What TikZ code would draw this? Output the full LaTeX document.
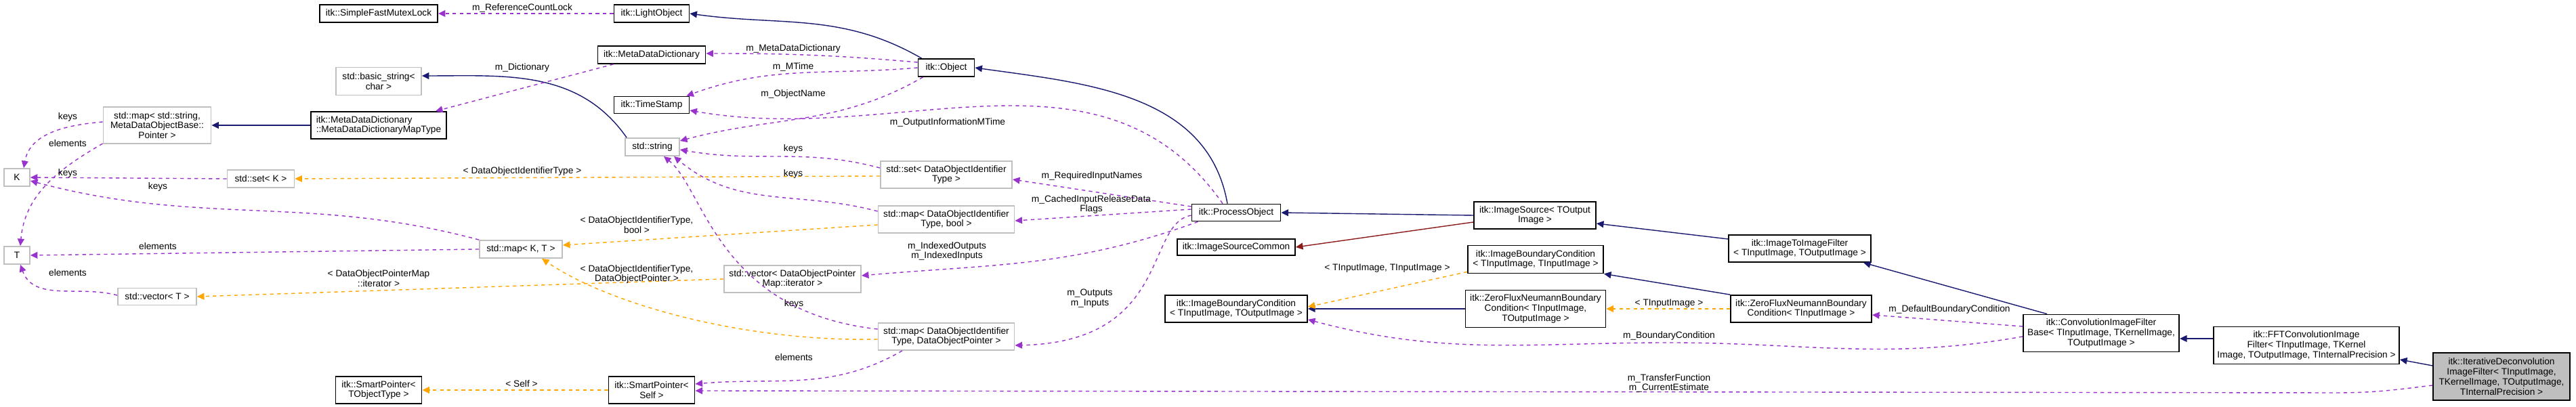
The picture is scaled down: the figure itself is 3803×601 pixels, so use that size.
\documentclass[tikz,border=0pt]{standalone}
\usepackage{fontspec}
\setmainfont{Liberation Sans}
\usetikzlibrary{arrows.meta,calc}
\newcommand\dgfont{\fontsize{3.9}{4.2}\selectfont}
\definecolor{inhcol}{HTML}{191970}
\definecolor{usecol}{HTML}{9A32CD}
\definecolor{tplcol}{HTML}{FFA500}
\definecolor{prvcol}{HTML}{8B1A1A}
\begin{document}
\begin{tikzpicture}[x=0.01cm, y=-0.01cm, >={Triangle[length=3pt,width=2.8pt]},
  cls/.style={draw=black, line width=0.5pt, fill=white, inner sep=0pt, align=center, font=\dgfont},
  ext/.style={cls, draw=black!25},
  lbl/.style={inner sep=0pt, align=center, font=\dgfont},
  inh/.style={->, inhcol, line width=0.4pt},
  prv/.style={->, prvcol, line width=0.4pt},
  use/.style={->, usecol, line width=0.4pt, dash pattern=on 1.5pt off 1.5pt},
  tpl/.style={->, tplcol, line width=0.4pt, dash pattern=on 1.5pt off 1.5pt}]

\useasboundingbox (0,0) rectangle (3803,601);

% Classes
\node[cls, minimum width=1.74cm, minimum height=0.26cm] (mutex) at (559,20) {itk::SimpleFastMutexLock};
\node[cls, minimum width=1.11cm, minimum height=0.26cm] (light) at (962,20) {itk::LightObject};
\node[cls, minimum width=1.59cm, minimum height=0.26cm] (mdd) at (962,81) {itk::MetaDataDictionary};
\node[ext, minimum width=1.26cm, minimum height=0.41cm] (basic) at (559,120) {std::basic\_string<\\char >};
\node[cls, minimum width=1.11cm, minimum height=0.25cm] (stamp) at (962,155) {itk::TimeStamp};
\node[ext, minimum width=0.80cm, minimum height=0.26cm] (str) at (963,217) {std::string};
\node[ext, minimum width=1.59cm, minimum height=0.54cm] (mapstr) at (232,185) {std::map< std::string,\\MetaDataObjectBase::\\Pointer >};
\node[cls, minimum width=2.00cm, minimum height=0.40cm, align=left] (maptype) at (559,185) {itk::MetaDataDictionary\\::MetaDataDictionaryMapType};
\node[ext, minimum width=0.38cm, minimum height=0.26cm] (kk) at (25,262) {K};
\node[ext, minimum width=0.99cm, minimum height=0.26cm] (setk) at (385,264) {std::set< K >};
\node[ext, minimum width=0.38cm, minimum height=0.26cm] (tt) at (25,377) {T};
\node[ext, minimum width=1.22cm, minimum height=0.26cm] (mapkt) at (769,368) {std::map< K, T >};
\node[ext, minimum width=1.16cm, minimum height=0.25cm] (vect) at (232,438) {std::vector< T >};
\node[cls, minimum width=1.27cm, minimum height=0.40cm] (spobj) at (559,576) {itk::SmartPointer<\\TObjectType >};
\node[cls, minimum width=1.27cm, minimum height=0.40cm] (spself) at (962,576) {itk::SmartPointer<\\Self >};
\node[cls, minimum width=0.83cm, minimum height=0.26cm] (obj) at (1397,100) {itk::Object};
\node[ext, minimum width=1.94cm, minimum height=0.40cm] (setid) at (1397,258) {std::set< DataObjectIdentifier\\Type >};
\node[ext, minimum width=2.01cm, minimum height=0.40cm] (mapbool) at (1397,324) {std::map< DataObjectIdentifier\\Type, bool >};
\node[ext, minimum width=2.02cm, minimum height=0.40cm] (vecdop) at (1170,412) {std::vector< DataObjectPointer\\Map::iterator >};
\node[ext, minimum width=2.01cm, minimum height=0.40cm] (mapdop) at (1397,497) {std::map< DataObjectIdentifier\\Type, DataObjectPointer >};
\node[cls, minimum width=1.31cm, minimum height=0.25cm] (proc) at (1825,314) {itk::ProcessObject};
\node[cls, minimum width=1.74cm, minimum height=0.24cm] (common) at (1825,365) {itk::ImageSourceCommon};
\node[cls, minimum width=2.10cm, minimum height=0.40cm] (bcio) at (1825,456) {itk::ImageBoundaryCondition\\< TInputImage, TOutputImage >};
\node[cls, minimum width=1.80cm, minimum height=0.40cm] (source) at (2266,318) {itk::ImageSource< TOutput\\Image >};
\node[cls, minimum width=2.00cm, minimum height=0.41cm] (bcii) at (2267,383) {itk::ImageBoundaryCondition\\< TInputImage, TInputImage >};
\node[cls, minimum width=2.10cm, minimum height=0.40cm] (i2i) at (2657,367) {itk::ImageToImageFilter\\< TInputImage, TOutputImage >};
\node[cls, minimum width=2.07cm, minimum height=0.55cm] (zfio) at (2267,456) {itk::ZeroFluxNeumannBoundary\\Condition< TInputImage,\\TOutputImage >};
\node[cls, minimum width=2.08cm, minimum height=0.40cm] (zfi) at (2659,456) {itk::ZeroFluxNeumannBoundary\\Condition< TInputImage >};
\node[cls, minimum width=2.30cm, minimum height=0.55cm] (conv) at (3102,492) {itk::ConvolutionImageFilter\\Base< TInputImage, TKernelImage,\\TOutputImage >};
\node[cls, minimum width=2.74cm, minimum height=0.55cm] (fft) at (3405,510) {itk::FFTConvolutionImage\\Filter< TInputImage, TKernel\\Image, TOutputImage, TInternalPrecision >};
\node[cls, fill=black!25, minimum width=2.02cm, minimum height=0.70cm] (iter) at (3693,556) {itk::IterativeDeconvolution\\ImageFilter< TInputImage,\\TKernelImage, TOutputImage,\\TInternalPrecision >};

% Inheritance
\draw[inh] ($(obj.north west)+(6,0)$) to[out=150,in=-8] (light.east);
\draw[inh] ($(proc.north)+(-13,0)$) to[out=100,in=-8] (obj.east);
\draw[inh] ($(str.north west)+(3,0)$) to[out=125,in=0] ($(basic.east)+(0,-8)$);
\draw[inh] (maptype.west) -- (mapstr.east);
\draw[inh] (source.west) -- (proc.east);
\draw[prv] ($(source.west)+(0,10)$) -- (common.east);
\draw[inh] ($(i2i.west)+(0,-14)$) -- ($(source.east)+(0,12)$);
\draw[inh] ($(conv.north)+(-80,0)$) -- ($(i2i.south)+(94,0)$);
\draw[inh] ($(fft.west)+(0,-10)$) -- ($(conv.east)+(0,8)$);
\draw[inh] ($(iter.west)+(0,-16)$) -- ($(fft.east)+(0,21)$);
\draw[inh] (zfio.west) -- (bcio.east);
\draw[inh] (zfi.north west) -- ($(bcii.south east)+(0,0)$);

% Templates
\draw[tpl] ($(setid.west)+(0,2)$) -- (setk.east);
\draw[tpl] ($(mapbool.west)+(0,8)$) -- ($(mapkt.east)+(0,-6)$);
\draw[tpl] ($(mapdop.west)+(0,4)$) .. controls (1100,505) and (900,450) .. ($(mapkt.south)+(31,0)$);
\draw[tpl] (vecdop.west) -- (vect.east);
\draw[tpl] ($(bcii.south west)+(0,-3)$) -- ($(bcio.north east)+(0,18)$);
\draw[tpl] (zfi.west) -- (zfio.east);
\draw[tpl] (spself.west) -- (spobj.east);

% Members
\draw[use] (light.west) -- (mutex.east);
\draw[use] ($(mdd.south west)+(24,0)$) -- ($(maptype.north)+(84,0)$);
\draw[use] ($(obj.west)+(0,-8)$) to[out=175,in=0] ($(mdd.east)+(0,-2)$);
\draw[use] (obj.west) to[out=185,in=20] ($(stamp.north east)+(-5,0)$);
\draw[use] ($(obj.south west)+(8,0)$) to[out=210,in=15] ($(str.east)+(0,-9)$);
\draw[use] ($(proc.north)+(-20,0)$) to[out=125,in=-10] ($(stamp.east)+(0,8)$);
\draw[use] ($(mapstr.west)+(0,-5)$) to[out=185,in=80] ($(kk.north)+(10,0)$);
\draw[use] ($(mapstr.west)+(0,27)$) to[out=210,in=85] ($(tt.north)+(5,0)$);
\draw[use] (setk.west) -- (kk.east);
\draw[use] (mapkt.north west) to[out=165,in=-15] ($(kk.east)+(0,5)$);
\draw[use] (mapkt.west) -- (tt.east);
\draw[use] ($(vect.west)+(0,-2)$) to[out=165,in=-70] ($(tt.south)+(5,0)$);
\draw[use] ($(setid.west)+(0,-10)$) to[out=165,in=-10] ($(str.east)+(0,4)$);
\draw[use] ($(mapbool.west)+(0,-12)$) to[out=165,in=-40] ($(str.south)+(32,0)$);
\draw[use] ($(mapdop.west)+(0,-11)$) .. controls (1060,460) and (1040,280) .. ($(str.south)+(17,0)$);
\draw[use] ($(proc.west)+(0,-9)$) -- ($(setid.east)+(0,7)$);
\draw[use] ($(proc.west)+(0,-5)$) -- ($(mapbool.east)+(0,2)$);
\draw[use] ($(proc.south west)+(10,0)$) to[out=200,in=5] ($(vecdop.east)+(0,-5)$);
\draw[use] ($(proc.west)+(0,4)$) .. controls (1690,330) and (1730,505) .. ($(mapdop.east)+(0,13)$);
\draw[use] ($(mapdop.south)+(-65,0)$) to[out=210,in=5] ($(spself.east)+(0,-9)$);
\draw[use] ($(iter.west)+(0,13)$) to[out=187,in=0] (3450,580) -- ($(spself.east)+(0,1)$);
\draw[use] ($(conv.west)+(0,5)$) to[out=190,in=0] (2464,506) to[out=180,in=-15] ($(bcio.south east)+(0,-5)$);
\draw[use] ($(conv.west)+(0,-10)$) -- ($(zfi.east)+(0,9)$);

% Labels
\node[lbl] (lrefcount) at (771,12) {m\_ReferenceCountLock};
\node[lbl] (ldict) at (771,100) {m\_Dictionary};
\node[lbl] (lmdd) at (1171,72) {m\_MetaDataDictionary};
\node[lbl] (lmtime) at (1171,99) {m\_MTime};
\node[lbl] (lname) at (1171,139) {m\_ObjectName};
\node[lbl] (loutinfo) at (1399,181) {m\_OutputInformationMTime};
\node[lbl] (lkeysa) at (1171,220) {keys};
\node[lbl] (lkeysb) at (1171,257) {keys};
\node[lbl] (lkeysc) at (1172,449) {keys};
\node[lbl] (lkeysd) at (100,173) {keys};
\node[lbl] (lelema) at (100,212) {elements};
\node[lbl] (lkeyse) at (100,256) {keys};
\node[lbl] (lkeysf) at (233,276) {keys};
\node[lbl] (lelemb) at (233,364) {elements};
\node[lbl] (lelemc) at (100,403) {elements};
\node[lbl] (lelemd) at (1172,528) {elements};
\node[lbl] (lsetid) at (771,253) {< DataObjectIdentifierType >};
\node[lbl] (lmapbool) at (940,332) {< DataObjectIdentifierType,\\bool >};
\node[lbl] (lmapdop) at (940,405) {< DataObjectIdentifierType,\\DataObjectPointer >};
\node[lbl] (lvecdop) at (559,411) {< DataObjectPointerMap\\::iterator >};
\node[lbl] (lself) at (770,567) {< Self >};
\node[lbl] (lreq) at (1612,260) {m\_RequiredInputNames};
\node[lbl] (lcached) at (1611,302) {m\_CachedInputReleaseData\\Flags};
\node[lbl] (lindexed) at (1398,371) {m\_IndexedOutputs\\m\_IndexedInputs};
\node[lbl] (lputs) at (1609,441) {m\_Outputs\\m\_Inputs};
\node[lbl] (ltii) at (2048,396) {< TInputImage, TInputImage >};
\node[lbl] (lti) at (2464,448) {< TInputImage >};
\node[lbl] (lbc) at (2464,496) {m\_BoundaryCondition};
\node[lbl] (ldbc) at (2878,457) {m\_DefaultBoundaryCondition};
\node[lbl] (ltransfer) at (2464,566) {m\_TransferFunction\\m\_CurrentEstimate};

\end{tikzpicture}
\end{document}
